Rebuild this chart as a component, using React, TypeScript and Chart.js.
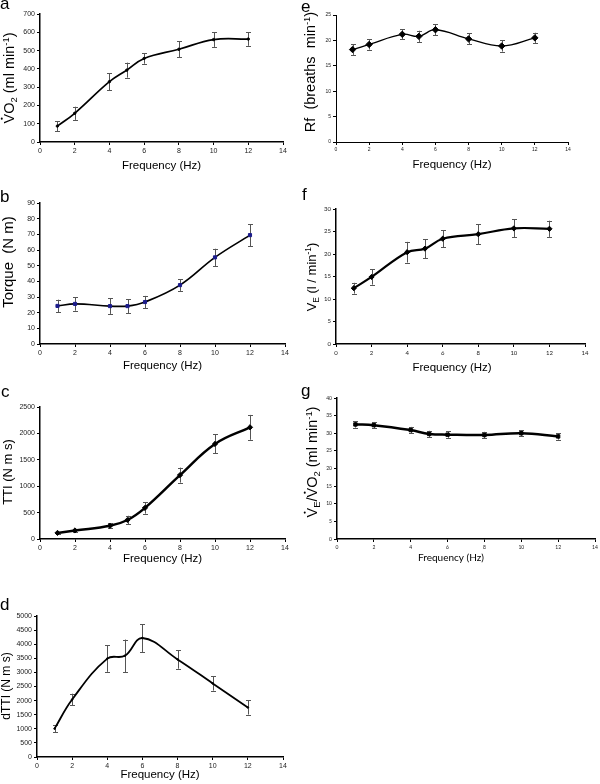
import React, { useEffect, useRef } from "react";
import { Chart, registerables } from "chart.js";

Chart.register(...registerables);

// ---------- data ----------
const frequency = [1, 2, 4, 5, 6, 8, 10, 12];

const vo2 = [87, 157, 330, 393, 457, 507, 560, 563];
const vo2Err = [27, 36, 46, 41, 29, 43, 40, 37];

const torque = [24.3, 25.6, 24.2, 24.2, 26.8, 37.6, 55.3, 69.5];
const torqueErr = [4.0, 4.3, 5.0, 4.5, 3.9, 3.7, 5.5, 7.0];

const tti = [115, 162, 250, 360, 590, 1210, 1800, 2115];
const ttiErr = [25, 25, 44, 80, 110, 142, 180, 235];

const dtti = [1005, 2040, 3490, 3590, 4220, 3460, 2610, 1755];
const dttiErr = [130, 205, 470, 575, 495, 330, 255, 250];

const rf = [18.2, 19.2, 21.2, 20.8, 22.1, 20.3, 18.9, 20.5];
const rfErr = [1.05, 1.0, 1.0, 1.1, 1.05, 1.1, 1.1, 1.0];

const ve = [12.4, 14.9, 20.4, 21.2, 23.4, 24.4, 25.7, 25.6];
const veErr = [1.2, 1.7, 2.3, 2.1, 1.85, 2.2, 2.0, 1.8];

const veVo2 = [32.5, 32.3, 30.9, 29.8, 29.6, 29.5, 30.0, 29.1];
const veVo2Err = [0.9, 0.9, 0.9, 0.9, 0.9, 0.9, 0.9, 0.9];

const xTitle = "Frequency (Hz)";
const xMax = 14;
const xStep = 2;

// ---------- styling ----------
const ARIAL = "'Liberation Sans', Arial, sans-serif";
const CALIBRI = "Lato, 'Liberation Sans', sans-serif";

type Seg = { t: string; k?: "sub" | "sup"; dot?: boolean };

type Panel = {
  letter: string;
  letterPos: [number, number];
  box: [number, number, number, number];
  plot: [number, number, number, number];
  values: number[];
  errors: number[];
  yMax: number;
  yStep: number;
  yTitle: Seg[];
  yTitleSize: number;
  yTitlePos: [number, number];
  xTitlePos: [number, number];
  xTitleSize: number;
  xTitleFont: string;
  tickSize: number;
  tickFont: string;
  lineWidth: number;
  pointStyle: string;
  pointRadius: number;
  pointColor: string;
  axisWidth: number;
};

const panels: Panel[] = [
  {
    letter: "a", letterPos: [0, 9], box: [0, 0, 300, 180], plot: [40, 283, 14, 142],
    values: vo2, errors: vo2Err, yMax: 700, yStep: 100,
    yTitle: [{ t: "V", dot: true }, { t: "O" }, { t: "2", k: "sub" }, { t: " (ml min" }, { t: "-1", k: "sup" }, { t: ")" }],
    yTitleSize: 14.5, yTitlePos: [9, 78], xTitlePos: [161.5, 166], xTitleSize: 11.5, xTitleFont: ARIAL,
    tickSize: 7, tickFont: ARIAL, lineWidth: 1.7, pointStyle: "circle", pointRadius: 1.2, pointColor: "#000", axisWidth: 1.5,
  },
  {
    letter: "b", letterPos: [0, 202], box: [0, 180, 300, 196], plot: [40, 285, 203, 344],
    values: torque, errors: torqueErr, yMax: 90, yStep: 10,
    yTitle: [{ t: "Torque  (N m)" }],
    yTitleSize: 15, yTitlePos: [8, 262], xTitlePos: [162.5, 366], xTitleSize: 11.5, xTitleFont: ARIAL,
    tickSize: 7, tickFont: ARIAL, lineWidth: 1.7, pointStyle: "rect", pointRadius: 2.2, pointColor: "#1c1c8c", axisWidth: 1.5,
  },
  {
    letter: "c", letterPos: [1, 397], box: [0, 376, 300, 194], plot: [40, 285, 407, 539],
    values: tti, errors: ttiErr, yMax: 2500, yStep: 500,
    yTitle: [{ t: "TTI (N m s)" }],
    yTitleSize: 13, yTitlePos: [7, 472], xTitlePos: [162.5, 559], xTitleSize: 11.5, xTitleFont: ARIAL,
    tickSize: 7, tickFont: ARIAL, lineWidth: 2.5, pointStyle: "rectRot", pointRadius: 2.6, pointColor: "#000", axisWidth: 1.5,
  },
  {
    letter: "d", letterPos: [0, 610], box: [0, 570, 300, 214], plot: [37, 283, 616, 757],
    values: dtti, errors: dttiErr, yMax: 5000, yStep: 500,
    yTitle: [{ t: "dTTI (N m s)" }],
    yTitleSize: 12, yTitlePos: [6, 686], xTitlePos: [160, 775], xTitleSize: 11.5, xTitleFont: ARIAL,
    tickSize: 7, tickFont: ARIAL, lineWidth: 1.8, pointStyle: "circle", pointRadius: 0.8, pointColor: "#000", axisWidth: 1.5,
  },
  {
    letter: "e", letterPos: [301, 12], box: [300, 0, 300, 180], plot: [336, 568, 15, 142],
    values: rf, errors: rfErr, yMax: 25, yStep: 5,
    yTitle: [{ t: "Rf  (breaths  min" }, { t: "-1", k: "sup" }, { t: ")" }],
    yTitleSize: 14.5, yTitlePos: [310, 72], xTitlePos: [452, 165], xTitleSize: 11.5, xTitleFont: ARIAL,
    tickSize: 5, tickFont: ARIAL, lineWidth: 1.3, pointStyle: "rectRot", pointRadius: 3.2, pointColor: "#000", axisWidth: 1,
  },
  {
    letter: "f", letterPos: [302, 200], box: [300, 180, 300, 196], plot: [336, 585, 209, 344],
    values: ve, errors: veErr, yMax: 30, yStep: 5,
    yTitle: [{ t: "V" }, { t: "E", k: "sub" }, { t: " (l / min" }, { t: "-1", k: "sup" }, { t: ")" }],
    yTitleSize: 13, yTitlePos: [311, 277], xTitlePos: [452, 368], xTitleSize: 11.5, xTitleFont: ARIAL,
    tickSize: 6, tickFont: CALIBRI, lineWidth: 2.2, pointStyle: "rectRot", pointRadius: 2.6, pointColor: "#000", axisWidth: 1.5,
  },
  {
    letter: "g", letterPos: [301, 396], box: [300, 376, 300, 408], plot: [337, 595, 398, 539],
    values: veVo2, errors: veVo2Err, yMax: 40, yStep: 5,
    yTitle: [{ t: "V", dot: true }, { t: "E", k: "sub" }, { t: "/" }, { t: "V", dot: true }, { t: "O" }, { t: "2", k: "sub" }, { t: " (ml min" }, { t: "-1", k: "sup" }, { t: ")" }],
    yTitleSize: 14.5, yTitlePos: [312, 462], xTitlePos: [451, 558], xTitleSize: 10, xTitleFont: CALIBRI,
    tickSize: 5, tickFont: CALIBRI, lineWidth: 2.5, pointStyle: "rect", pointRadius: 2.4, pointColor: "#000", axisWidth: 1.5,
  },
];

function drawRich(ctx: CanvasRenderingContext2D, segs: Seg[], size: number, family: string, cx: number, cy: number) {
  ctx.save();
  ctx.translate(cx, cy);
  ctx.rotate(-Math.PI / 2);
  ctx.textBaseline = "alphabetic";
  ctx.textAlign = "left";
  ctx.fillStyle = "#000";
  const sizes = segs.map((s) => (s.k ? size * 0.65 : size));
  const widths = segs.map((s, i) => {
    ctx.font = `${sizes[i]}px ${family}`;
    return ctx.measureText(s.t).width;
  });
  const total = widths.reduce((a, b) => a + b, 0);
  let x = -total / 2;
  const base = size * 0.36;
  segs.forEach((s, i) => {
    ctx.font = `${sizes[i]}px ${family}`;
    const dy = s.k === "sub" ? size * 0.22 : s.k === "sup" ? -size * 0.38 : 0;
    ctx.fillText(s.t, x, base + dy);
    if (s.dot) {
      ctx.beginPath();
      ctx.arc(x + widths[i] / 2, base - size * 0.86, Math.max(0.9, size * 0.07), 0, Math.PI * 2);
      ctx.fill();
    }
    x += widths[i];
  });
  ctx.restore();
}

function PanelChart({ p }: { p: Panel }) {
  const ref = useRef<HTMLCanvasElement>(null);
  const [left, top, w, h] = p.box;

  useEffect(() => {
    const [x0, x1, yT, yB] = p.plot;
    const decor = {
      id: "decor",
      beforeDatasetsDraw(chart: any) {
        const ctx: CanvasRenderingContext2D = chart.ctx;
        const xs = chart.scales.x;
        const ys = chart.scales.y;
        ctx.save();
        ctx.strokeStyle = "#555";
        ctx.lineWidth = 1;
        frequency.forEach((f, i) => {
          const px = Math.round(xs.getPixelForValue(f)) + 0.5;
          const t = ys.getPixelForValue(p.values[i] + p.errors[i]);
          const b = ys.getPixelForValue(p.values[i] - p.errors[i]);
          ctx.beginPath();
          ctx.moveTo(px, t);
          ctx.lineTo(px, b);
          ctx.moveTo(px - 2.5, Math.round(t) + 0.5);
          ctx.lineTo(px + 2.5, Math.round(t) + 0.5);
          ctx.moveTo(px - 2.5, Math.round(b) + 0.5);
          ctx.lineTo(px + 2.5, Math.round(b) + 0.5);
          ctx.stroke();
        });
        ctx.restore();
      },
      afterDraw(chart: any) {
        const ctx: CanvasRenderingContext2D = chart.ctx;
        // y title
        drawRich(ctx, p.yTitle, p.yTitleSize, ARIAL, p.yTitlePos[0] - left, p.yTitlePos[1] - top);
        // x title
        ctx.save();
        ctx.fillStyle = "#000";
        ctx.textAlign = "center";
        ctx.textBaseline = "middle";
        ctx.font = `${p.xTitleSize}px ${p.xTitleFont}`;
        ctx.fillText(xTitle, p.xTitlePos[0] - left, p.xTitlePos[1] - top);
        // panel letter
        ctx.textAlign = "left";
        ctx.textBaseline = "alphabetic";
        ctx.font = `17px ${ARIAL}`;
        ctx.fillText(p.letter, p.letterPos[0] - left, p.letterPos[1] - top);
        ctx.restore();
      },
    };

    const tickOpts = {
      font: { size: p.tickSize, family: p.tickFont },
      color: "#222",
      padding: 2,
      autoSkip: false,
      maxRotation: 0,
      callback: (v: any) => String(v),
    };
    const gridOpts = { drawOnChartArea: false, drawTicks: true, tickLength: 3, color: "#000", lineWidth: 1 };

    const chart = new Chart(ref.current!, {
      type: "line",
      data: {
        datasets: [
          {
            data: frequency.map((f, i) => ({ x: f, y: p.values[i] })),
            borderColor: "#000",
            borderWidth: p.lineWidth,
            tension: 0.4,
            fill: false,
            pointStyle: p.pointStyle as any,
            pointRadius: p.pointRadius,
            pointBackgroundColor: p.pointColor,
            pointBorderColor: p.pointColor,
            pointBorderWidth: 1,
          },
        ],
      },
      options: {
        responsive: false,
        animation: false,
        devicePixelRatio: 1,
        layout: { padding: { left: 0, top: yT - top, right: left + w - x1, bottom: 0 } },
        plugins: { legend: { display: false }, tooltip: { enabled: false } },
        scales: {
          x: {
            type: "linear",
            min: 0,
            max: xMax,
            ticks: { ...tickOpts, stepSize: xStep },
            grid: gridOpts,
            border: { color: "#000", width: p.axisWidth },
            afterFit: (s: any) => {
              s.height = top + h - yB;
            },
          },
          y: {
            type: "linear",
            min: 0,
            max: p.yMax,
            ticks: { ...tickOpts, stepSize: p.yStep },
            grid: gridOpts,
            border: { color: "#000", width: p.axisWidth },
            afterFit: (s: any) => {
              s.width = x0 - left;
            },
          },
        },
      } as any,
      plugins: [decor],
    });
    return () => chart.destroy();
  }, []);

  return (
    <canvas
      ref={ref}
      width={w}
      height={h}
      style={{ position: "absolute", left, top, width: w, height: h }}
    />
  );
}

export default function App() {
  return (
    <div style={{ position: "absolute", left: 0, top: 0, width: 600, height: 784, background: "#fff" }}>
      {panels.map((p) => (
        <PanelChart key={p.letter} p={p} />
      ))}
    </div>
  );
}
